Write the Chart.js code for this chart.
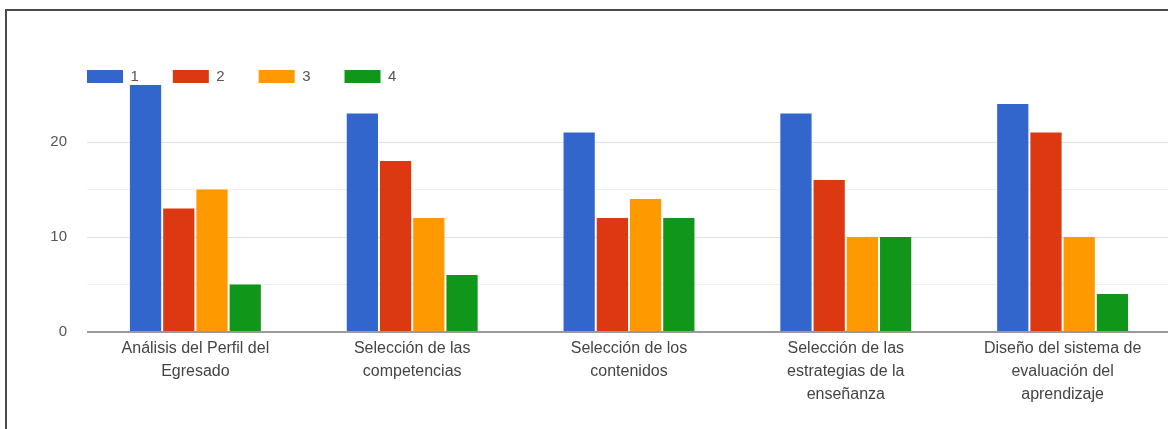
<!DOCTYPE html>
<html>
<head>
<meta charset="utf-8">
<script src="https://cdn.jsdelivr.net/npm/chart.js@4.4.1/dist/chart.umd.min.js"></script>
<style>
  html, body { margin: 0; padding: 0; background: #fff; overflow: hidden; width: 1168px; height: 429px; }
  #frame { position: absolute; left: 5px; top: 9px; width: 1300px; height: 600px; border: 2px solid #4a4a4a; box-sizing: border-box; }
  #wrap { position: absolute; left: 0; top: 0; width: 1172px; height: 429px; }
</style>
</head>
<body>
<div id="frame"></div>
<div id="wrap"><canvas id="c" width="1172" height="429"></canvas></div>
<script>
const categories = [
  ["Análisis del Perfil del", "Egresado"],
  ["Selección de las", "competencias"],
  ["Selección de los", "contenidos"],
  ["Selección de las", "estrategias de la", "enseñanza"],
  ["Diseño del sistema de", "evaluación del", "aprendizaje"]
];
const seriesNames = ["1", "2", "3", "4"];
const series1 = [26, 23, 21, 23, 24];
const series2 = [13, 18, 12, 16, 21];
const series3 = [15, 12, 14, 10, 10];
const series4 = [5, 6, 12, 10, 4];
const yTickLabels = [0, 10, 20];
const colors = ["#3366cc", "#dc3912", "#ff9900", "#109618"];

const legendShift = {
  id: 'legendShift',
  afterLayout(chart) {
    const lg = chart.legend;
    const dx = 53 - lg.left;
    lg.left += dx; lg.right += dx;
    lg.top += 9; lg.bottom += 9;
  }
};

new Chart(document.getElementById('c'), {
  type: 'bar',
  data: {
    labels: categories,
    datasets: [series1, series2, series3, series4].map((d, i) => ({
      label: seriesNames[i],
      data: d,
      backgroundColor: colors[i],
      borderWidth: 0,
      categoryPercentage: 0.613,
      barPercentage: 0.94
    }))
  },
  plugins: [legendShift],
  options: {
    responsive: false,
    animation: false,
    layout: { padding: { top: 26, left: 0, right: 1, bottom: 0 } },
    plugins: {
      tooltip: { enabled: false },
      legend: {
        display: true,
        position: 'top',
        align: 'start',
        labels: {
          boxWidth: 36,
          boxHeight: 13,
          padding: 34,
          color: '#555',
          font: { family: 'Liberation Sans, Arial, sans-serif', size: 15 }
        }
      }
    },
    scales: {
      x: {
        grid: { display: false },
        border: { display: false },
        ticks: {
          color: '#444',
          padding: -3,
          maxRotation: 0,
          autoSkip: false,
          font: { family: 'Liberation Sans, Arial, sans-serif', size: 16, lineHeight: 1.45 }
        },
        afterFit(s) { s.height = 97; }
      },
      y: {
        min: 0,
        max: 26,
        border: { display: false },
        grid: {
          drawTicks: false,
          lineWidth: (ctx) => ctx.tick && ctx.tick.value === 0 ? 2 : 1,
          color: (ctx) => {
            if (!ctx.tick) return 'rgba(0,0,0,0)';
            const v = ctx.tick.value;
            if (v === 0) return '#9a9a9a';
            if (v % 10 === 0) return '#e2e2e2';
            return '#f0f0f0';
          }
        },
        ticks: {
          stepSize: 5,
          padding: 20,
          color: '#555',
          font: { family: 'Liberation Sans, Arial, sans-serif', size: 15 },
          callback: (v) => yTickLabels.includes(v) ? String(v) : ''
        },
        afterBuildTicks(axis) { axis.ticks = axis.ticks.filter(t => t.value % 5 === 0); },
        afterFit(s) { s.width = 87; }
      }
    }
  }
});
</script>
</body>
</html>
